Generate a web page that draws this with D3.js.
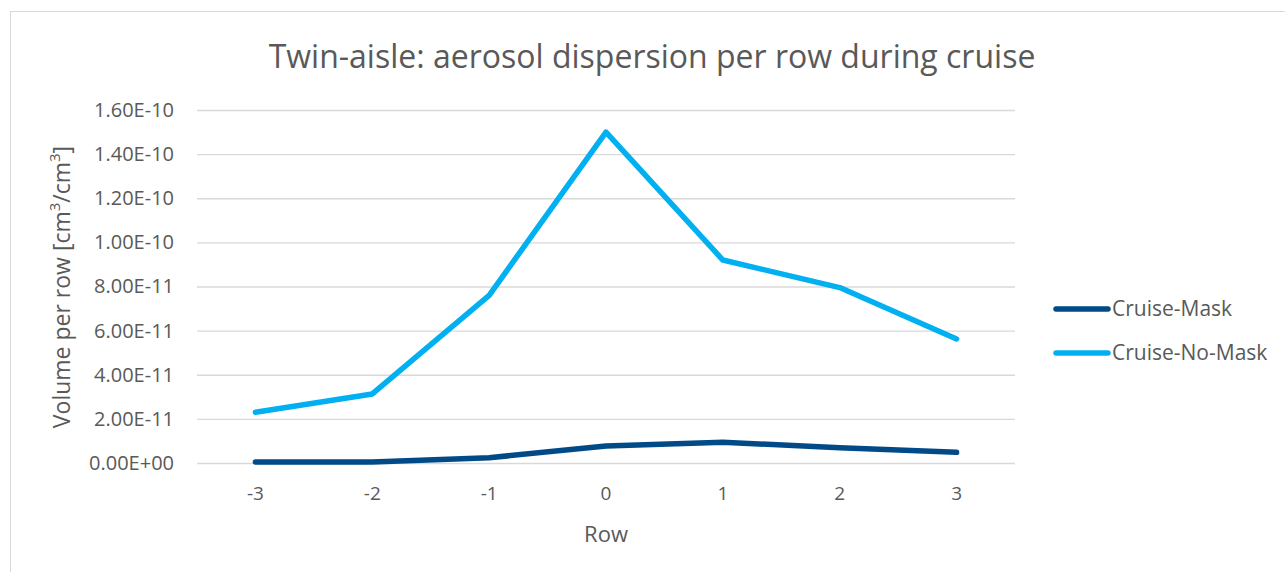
<!DOCTYPE html>
<html><head><meta charset="utf-8">
<script src="https://cdn.jsdelivr.net/npm/d3@7"></script>
<style>
body{margin:0;background:#fff;}
text{font-family:"Open Sans","Liberation Sans",sans-serif;fill:#595959;}
</style></head>
<body><svg id="c" width="1285" height="572"></svg>
<script>
const rows = [-3, -2, -1, 0, 1, 2, 3];
const cruiseMask = [5e-13, 5e-13, 2.4e-12, 7.7e-12, 9.4e-12, 6.9e-12, 4.85e-12];
const cruiseNoMask = [2.3e-11, 3.13e-11, 7.6e-11, 1.5e-10, 9.2e-11, 7.95e-11, 5.62e-11];
const yTicks = [0, 2e-11, 4e-11, 6e-11, 8e-11, 1e-10, 1.2e-10, 1.4e-10, 1.6e-10];
const seriesNames = ["Cruise-Mask", "Cruise-No-Mask"];
const colors = ["#004b87", "#00b0f0"];
const series = [cruiseMask, cruiseNoMask];

const svg = d3.select("#c");
svg.append("rect").attr("x",10.5).attr("y",11.5).attr("width",1290).attr("height",580)
  .attr("fill","none").attr("stroke","#d9d9d9");

const L=197,R=1015,T=110,B=463;
const x = d3.scaleBand().domain(rows).range([L,R]);
const y = d3.scaleLinear().domain([0,1.6e-10]).range([B,T]);

const fmt = v => {
  if (v===0) return "0.00E+00";
  const e = Math.floor(Math.log10(v)+1e-9);
  const m = v/Math.pow(10,e);
  return m.toFixed(2)+"E"+(e<0?"-":"+")+String(Math.abs(e)).padStart(2,"0");
};

const ya = svg.append("g").attr("transform",`translate(${L},0)`)
  .call(d3.axisLeft(y).tickValues(yTicks).tickSize(-(R-L)).tickFormat(fmt).tickPadding(23));
ya.select(".domain").remove();
ya.selectAll(".tick line").attr("stroke","#d9d9d9").attr("stroke-width",1.3);
ya.selectAll(".tick text").style("font-size","20px").attr("fill","#595959");

const xa = svg.append("g").attr("transform",`translate(0,${B})`)
  .call(d3.axisBottom(x).tickSize(0).tickPadding(24));
xa.select(".domain").remove();
xa.selectAll(".tick text").style("font-size","19px").attr("fill","#595959");

const line = d3.line().x((d,i)=>x(rows[i])+x.bandwidth()/2).y(d=>y(d));
series.forEach((s,k)=>{
  svg.append("path").datum(s).attr("d",line).attr("fill","none")
    .attr("stroke",colors[k]).attr("stroke-width",5.5)
    .attr("stroke-linecap","round").attr("stroke-linejoin","round");
});

svg.append("text").attr("x",652).attr("y",68).attr("text-anchor","middle")
  .style("font-size","32px").text("Twin-aisle: aerosol dispersion per row during cruise");
svg.append("text").attr("x",606).attr("y",542).attr("text-anchor","middle")
  .style("font-size","22px").text("Row");
const yt = svg.append("text").attr("transform","translate(70,287) rotate(-90)")
  .attr("text-anchor","middle").style("font-size","23px");
yt.append("tspan").text("Volume per row [cm");
yt.append("tspan").attr("baseline-shift","super").style("font-size","15px").text("3");
yt.append("tspan").text("/cm");
yt.append("tspan").attr("baseline-shift","super").style("font-size","15px").text("3");
yt.append("tspan").text("]");

seriesNames.forEach((n,k)=>{
  const yy = 309 + k*44;
  svg.append("line").attr("x1",1056).attr("x2",1108).attr("y1",yy).attr("y2",yy)
    .attr("stroke",colors[k]).attr("stroke-width",5.5).attr("stroke-linecap","round");
  svg.append("text").attr("x",1112).attr("y",yy+7).style("font-size","21px").text(n);
});
</script></body></html>
